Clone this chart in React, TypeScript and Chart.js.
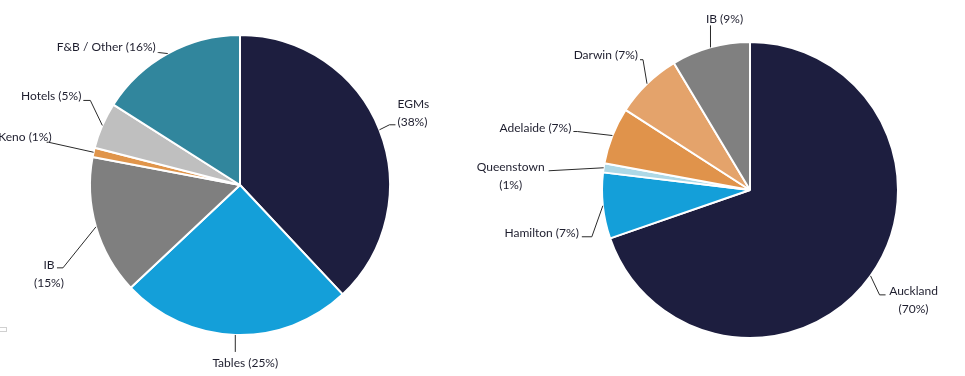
import React, { useEffect, useRef } from "react";
import { Chart, registerables } from "chart.js";

Chart.register(...registerables);

// ---- Left pie: revenue by segment ----
const leftNames = ["EGMs", "Tables", "IB", "Keno", "Hotels", "F&B / Other"];
const leftValues = [38, 25, 15, 1, 5, 16];
const leftPercents = [38, 25, 15, 1, 5, 16];
const leftColors = ["#1d1e3f", "#149fd9", "#7f7f7f", "#e0954b", "#bfbfbf", "#31869d"];

// ---- Right pie: revenue by property ----
const rightNames = ["Auckland", "Hamilton", "Queenstown", "Adelaide", "Darwin", "IB"];
const rightValues = [69.7, 7.2, 1.0, 6.2, 7.3, 8.6];
const rightPercents = [70, 7, 1, 7, 7, 9];
const rightColors = ["#1d1e3f", "#149fd9", "#aed8e6", "#e0934b", "#e4a36b", "#808080"];

type LabelLayout = {
  elbow: [number, number];
  tail: number;
  align: CanvasTextAlign;
  text: [number, number];
  wrap: boolean;
};

const leftLayout: LabelLayout[] = [
  { elbow: [10, -5], tail: 6, align: "left", text: [2, -21], wrap: true },
  { elbow: [0, 17], tail: 0, align: "center", text: [10, 11], wrap: false },
  { elbow: [-33, 41], tail: -6, align: "center", text: [-8, -3], wrap: true },
  { elbow: [-45, -10], tail: -2, align: "right", text: [5, -5], wrap: false },
  { elbow: [-12, -25], tail: -7, align: "right", text: [-2, -4], wrap: false },
  { elbow: [-9, -1], tail: -1, align: "right", text: [-2, -5], wrap: false },
];

const rightLayout: LabelLayout[] = [
  { elbow: [9, 19], tail: 6, align: "center", text: [28, -4], wrap: true },
  { elbow: [-11, 31], tail: -10, align: "right", text: [-3, -4], wrap: false },
  { elbow: [-55, 3], tail: 0, align: "center", text: [-38, -4], wrap: true },
  { elbow: [-35, -4], tail: -4, align: "right", text: [-2, -3], wrap: false },
  { elbow: [-4, -24], tail: -3, align: "right", text: [-2, -5], wrap: false },
  { elbow: [0, -22], tail: 0, align: "center", text: [14, -6], wrap: false },
];

function makeLabelPlugin(names: string[], percents: number[], layout: LabelLayout[]) {
  return {
    id: "leaderLabels",
    afterDatasetsDraw(chart: any) {
      const meta = chart.getDatasetMeta(0);
      const ctx: CanvasRenderingContext2D = chart.ctx;
      ctx.save();
      ctx.font = "12px Lato, 'Open Sans', sans-serif";
      ctx.textBaseline = "middle";
      meta.data.forEach((arc: any, i: number) => {
        const p = arc.getProps(["x", "y", "startAngle", "endAngle", "outerRadius"], true);
        const mid = (p.startAngle + p.endAngle) / 2;
        const px = p.x + Math.cos(mid) * p.outerRadius;
        const py = p.y + Math.sin(mid) * p.outerRadius;
        const L = layout[i];
        const ex = px + L.elbow[0];
        const ey = py + L.elbow[1];
        const tx = ex + L.tail;
        ctx.strokeStyle = "#2a2a2a";
        ctx.lineWidth = 1;
        ctx.beginPath();
        ctx.moveTo(px, py);
        ctx.lineTo(ex, ey);
        ctx.lineTo(tx, ey);
        ctx.stroke();
        const lines = L.wrap
          ? [names[i], `(${percents[i]}%)`]
          : [`${names[i]} (${percents[i]}%)`];
        ctx.fillStyle = "#1e1e2e";
        ctx.textAlign = L.align;
        lines.forEach((t, k) => {
          ctx.fillText(t, tx + L.text[0], ey + L.text[1] + k * 18);
        });
      });
      ctx.restore();
    },
  };
}

function PieCanvas(props: {
  width: number;
  height: number;
  names: string[];
  values: number[];
  percents: number[];
  colors: string[];
  layout: LabelLayout[];
  padding: { left: number; right: number; top: number; bottom: number };
}) {
  const ref = useRef<HTMLCanvasElement>(null);
  useEffect(() => {
    if (!ref.current) return;
    const chart = new Chart(ref.current, {
      type: "pie",
      data: {
        labels: props.names,
        datasets: [
          {
            data: props.values,
            backgroundColor: props.colors,
            borderColor: "#ffffff",
            borderWidth: 2,
          },
        ],
      },
      options: {
        responsive: false,
        animation: false,
        devicePixelRatio: 1,
        layout: { padding: props.padding },
        plugins: {
          legend: { display: false },
          tooltip: { enabled: false },
        },
      },
      plugins: [makeLabelPlugin(props.names, props.percents, props.layout)],
    });
    return () => chart.destroy();
  }, []);
  return (
    <canvas
      ref={ref}
      width={props.width}
      height={props.height}
      style={{ width: props.width, height: props.height, display: "block" }}
    />
  );
}

export default function App() {
  return (
    <div
      style={{
        position: "fixed",
        left: 0,
        top: 0,
        width: 965,
        height: 376,
        background: "#ffffff",
        overflow: "hidden",
      }}
    >
      <div style={{ position: "absolute", left: 0, top: 0 }}>
        <PieCanvas
          width={460}
          height={376}
          names={leftNames}
          values={leftValues}
          percents={leftPercents}
          colors={leftColors}
          layout={leftLayout}
          padding={{ left: 89, right: 69, top: 34, bottom: 40 }}
        />
      </div>
      <div style={{ position: "absolute", left: 440, top: 0 }}>
        <PieCanvas
          width={525}
          height={376}
          names={rightNames}
          values={rightValues}
          percents={rightPercents}
          colors={rightColors}
          layout={rightLayout}
          padding={{ left: 161, right: 66, top: 41, bottom: 37 }}
        />
      </div>
      <div
        style={{
          position: "absolute",
          left: -1,
          top: 327,
          width: 6,
          height: 3,
          border: "1px solid #d0d0d0",
        }}
      />
    </div>
  );
}
